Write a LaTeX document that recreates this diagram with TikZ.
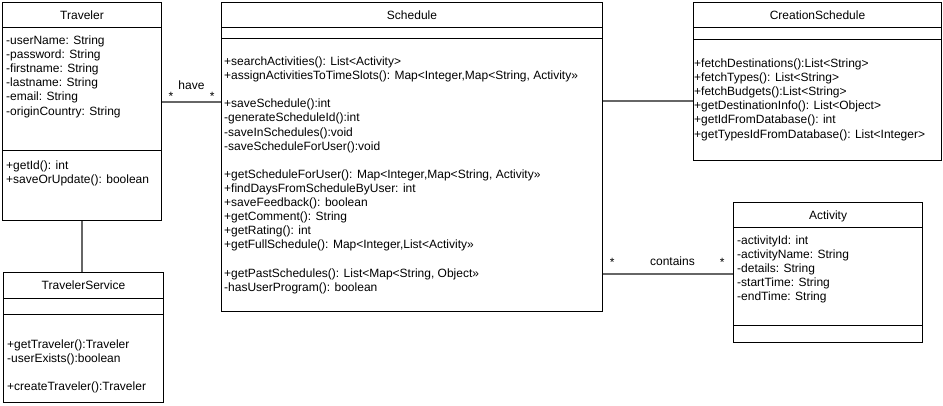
\documentclass[tikz,border=0pt]{standalone}
\usepackage{fontspec}
\setmainfont{Liberation Sans}
\usetikzlibrary{calc}

\tikzset{
    classBox/.style={draw, line width=1pt, inner sep=0pt, anchor=north west},
    classTitle/.style={anchor=base, inner sep=0pt, font=\fontsize{12}{14}\selectfont},
    member/.style={anchor=base west, inner sep=0pt, font=\fontsize{12}{14}\selectfont},
    assoc/.style={draw=black!60, line width=1.3pt},
    assocLabel/.style={anchor=base, inner sep=0pt, font=\fontsize{12}{14}\selectfont},
}

% line across a class box, #2 below its top
\newcommand{\compartment}[2]{%
    \draw[line width=1pt] ($(#1.north west)+(0,#2)$) -- ($(#1.north east)+(0,#2)$);}
% rows of members: name prefix, x, first baseline, list of row/text
\newcommand{\memberRows}[4]{%
    \foreach \i/\t in {#4} {\node[member] (#1\i) at (#2, #3+\rowH*\i) {\t};}}

\begin{document}
\begin{tikzpicture}[x=1pt, y=-1pt]
        \pgfmathsetmacro{\rowH}{14.1}
        \pgfmathsetmacro{\titleY}{17}

        \fill[white] (0, 0) rectangle (943, 405);
        \useasboundingbox (0, 0) rectangle (943, 405);

        % class boxes
        \node[classBox, minimum width=159, minimum height=218] (traveler) at (2, 2) {};
        \node[classBox, minimum width=160, minimum height=130] (travelerService) at (3, 272) {};
        \node[classBox, minimum width=381, minimum height=309] (schedule) at (221, 2) {};
        \node[classBox, minimum width=248, minimum height=158] (creationSchedule) at (693, 2) {};
        \node[classBox, minimum width=189, minimum height=140] (activity) at (733, 202) {};

        \compartment{traveler}{25}
        \compartment{traveler}{148}
        \compartment{travelerService}{26}
        \compartment{travelerService}{42}
        \compartment{schedule}{25}
        \compartment{schedule}{36}
        \compartment{creationSchedule}{25}
        \compartment{creationSchedule}{37}
        \compartment{activity}{25}
        \compartment{activity}{123}

        % titles
        \node[classTitle] (travelerTitle) at ($(traveler.north)+(0,\titleY)$) {Traveler};
        \node[classTitle] (travelerServiceTitle) at ($(travelerService.north)+(0,\titleY)$) {TravelerService};
        \node[classTitle] (scheduleTitle) at ($(schedule.north)+(0,\titleY)$) {Schedule};
        \node[classTitle] (creationScheduleTitle) at ($(creationSchedule.north)+(0,\titleY)$) {CreationSchedule};
        \node[classTitle] (activityTitle) at ($(activity.north)+(0,\titleY)$) {Activity};

        % members
        \memberRows{travAttr}{6}{44.5}{0/-userName: String, 1/-password: String,
            2/-firstname: String, 3/-lastname: String, 4/-email: String,
            5/-originCountry: String}
        \memberRows{travOp}{6}{169.5}{0/+getId(): int, 1/+saveOrUpdate(): boolean}

        \memberRows{servOp}{7}{348.5}{0/+getTraveler():Traveler, 1/-userExists():boolean,
            3/+createTraveler():Traveler}

        \memberRows{schedOp}{224}{65.5}{0/+searchActivities(): List<Activity>,
            1/{+assignActivitiesToTimeSlots(): Map<Integer,Map<String, Activity>>},
            3/+saveSchedule():int, 4/-generateScheduleId():int,
            5/-saveInSchedules():void, 6/-saveScheduleForUser():void,
            8/{+getScheduleForUser(): Map<Integer,Map<String, Activity>>},
            9/+findDaysFromScheduleByUser: int, 10/+saveFeedback(): boolean,
            11/+getComment(): String, 12/+getRating(): int,
            13/{+getFullSchedule(): Map<Integer,List<Activity>>},
            15/{+getPastSchedules(): List<Map<String, Object>>},
            16/-hasUserProgram(): boolean}

        \memberRows{creaOp}{694}{67.5}{0/+fetchDestinations():List<String>,
            1/+fetchTypes(): List<String>, 2/+fetchBudgets():List<String>,
            3/+getDestinationInfo(): List<Object>, 4/+getIdFromDatabase(): int,
            5/+getTypesIdFromDatabase(): List<Integer>}

        \memberRows{actAttr}{737}{244.5}{0/-activityId: int, 1/-activityName: String,
            2/-details: String, 3/-startTime: String, 4/-endTime: String}

        % associations
        \coordinate (haveLevel) at (0, 102);
        \coordinate (creationLevel) at (0, 101);
        \coordinate (containsLevel) at (0, 274);

        \draw[assoc] (traveler.east |- haveLevel) --
            node[assocLabel, pos=0.15, yshift=2pt] (haveFrom) {*}
            node[assocLabel, pos=0.5, yshift=13pt] (haveText) {have}
            node[assocLabel, pos=0.85, yshift=2pt] (haveTo) {*}
            (schedule.west |- haveLevel);
        \draw[assoc] (schedule.east |- creationLevel) -- (creationSchedule.west |- creationLevel);
        \draw[assoc] (schedule.east |- containsLevel) --
            node[assocLabel, pos=0.07, yshift=8pt] (containsFrom) {*}
            node[assocLabel, pos=0.534, yshift=9pt] (containsText) {contains}
            node[assocLabel, pos=0.916, yshift=8pt] (containsTo) {*}
            (activity.west |- containsLevel);
        \draw[assoc] (traveler.south) -- (traveler.south |- travelerService.north);
    \end{tikzpicture}
\end{document}
